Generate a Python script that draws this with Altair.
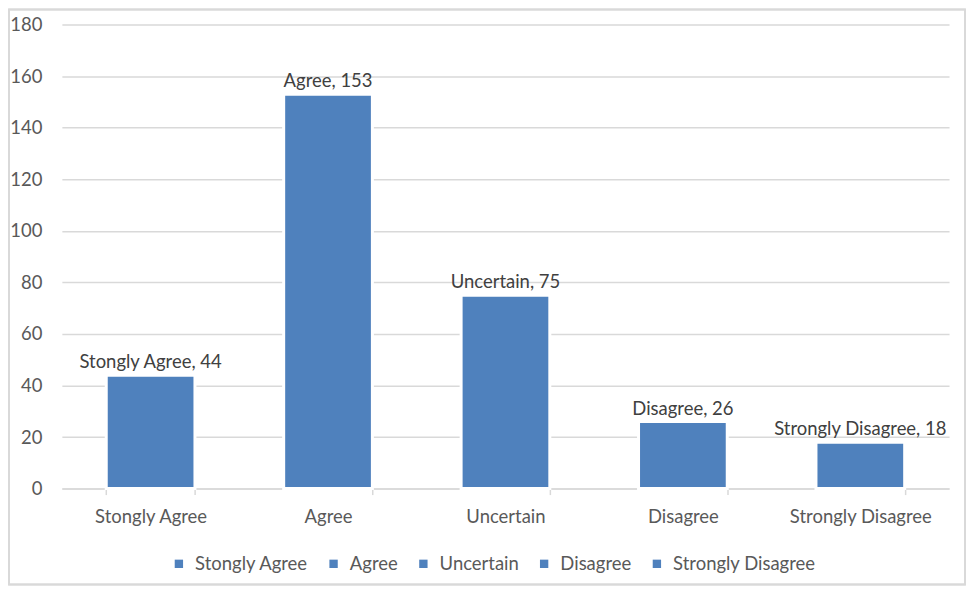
import altair as alt
import pandas as pd

categories = ["Stongly Agree", "Agree", "Uncertain", "Disagree", "Strongly Disagree"]
values = [44, 153, 75, 26, 18]
y_ticks = [0, 20, 40, 60, 80, 100, 120, 140, 160, 180]

df = pd.DataFrame({"cat": categories, "val": values})
df["label"] = df["cat"] + ", " + df["val"].astype(str)

FONT = "Lato"
FS = 18.5
BLUE = "#4F81BD"
W, H = 889, 465

x = alt.X("cat:N", sort=categories, title=None,
          scale=alt.Scale(paddingInner=0.5, paddingOuter=0.25),
          axis=alt.Axis(labelAngle=0, labelFontSize=FS, labelColor="#595959", labelFont=FONT,
                        domainColor="#D9D9D9", domainWidth=1.5, tickColor="#D9D9D9", tickSize=6,
                        tickWidth=1.5, tickBand="extent", labelPadding=13, grid=False))
y = alt.Y("val:Q", title=None,
          scale=alt.Scale(domain=[0, 180], nice=False),
          axis=alt.Axis(values=y_ticks, labelFontSize=FS, labelColor="#595959", labelFont=FONT,
                        domain=False, ticks=False, gridColor="#D9D9D9", gridWidth=1.5, labelPadding=20))

bars = alt.Chart(df).mark_bar(stroke="white", strokeWidth=3).encode(
    x=x, y=y,
    color=alt.Color("cat:N", sort=categories, title=None,
                    scale=alt.Scale(domain=categories, range=[BLUE] * 5),
                    legend=alt.Legend(orient="none", direction="horizontal", legendX=108, legendY=531,
                                      symbolType="square", symbolSize=70, symbolStrokeWidth=0,
                                      labelFontSize=FS, labelColor="#595959", labelFont=FONT,
                                      columnPadding=16, labelOffset=7)),
)

labels = alt.Chart(df).mark_text(baseline="bottom", dy=-3, fontSize=FS, color="#404040", font=FONT).encode(
    x=alt.X("cat:N", sort=categories), y="val:Q", text="label:N"
)

border = alt.Chart(df).mark_rect(fill=None, stroke="#D9D9D9", strokeWidth=1.5).encode(
    x=alt.value(-53), x2=alt.value(W + 16), y=alt.value(-15), y2=alt.value(H + 96)
)

chart = alt.layer(border, bars, labels).properties(
    width=W, height=H,
    background="white",
    autosize=alt.AutoSizeParams(type="none"),
    padding={"left": 54, "top": 16, "right": 18, "bottom": 98},
).configure_view(strokeWidth=0, stroke="transparent")

chart.save("out.html", embed_options={"renderer": "svg", "actions": False})
